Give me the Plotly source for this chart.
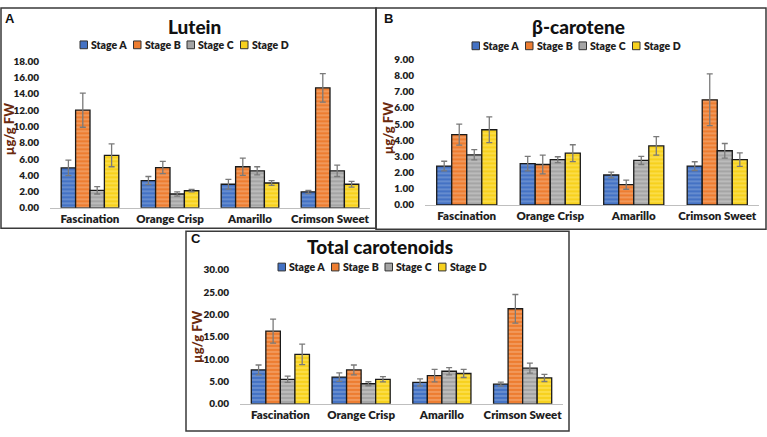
import plotly.graph_objects as go

W, H = 767, 437

categories = ["Fascination", "Orange Crisp", "Amarillo", "Crimson Sweet"]
stages = ["Stage A", "Stage B", "Stage C", "Stage D"]

# Lutein (µg/g FW)
lutein_a = [4.9, 3.35, 2.9, 1.95]
lutein_b = [12.0, 4.95, 5.05, 14.75]
lutein_c = [2.15, 1.7, 4.55, 4.55]
lutein_d = [6.45, 2.1, 3.05, 2.9]
lutein_err_a = [0.95, 0.5, 0.6, 0.2]
lutein_err_b = [2.1, 0.75, 1.05, 1.75]
lutein_err_c = [0.45, 0.25, 0.5, 0.7]
lutein_err_d = [1.4, 0.15, 0.3, 0.35]

# beta-carotene (µg/g FW)
bcar_a = [2.4, 2.55, 1.85, 2.4]
bcar_b = [4.35, 2.5, 1.25, 6.5]
bcar_c = [3.1, 2.8, 2.75, 3.35]
bcar_d = [4.65, 3.2, 3.65, 2.8]
bcar_err_a = [0.3, 0.45, 0.18, 0.27]
bcar_err_b = [0.65, 0.58, 0.28, 1.6]
bcar_err_c = [0.32, 0.18, 0.25, 0.45]
bcar_err_d = [0.8, 0.52, 0.57, 0.42]

# Total carotenoids (µg/g FW)
total_a = [7.6, 6.0, 4.8, 4.4]
total_b = [16.3, 7.6, 6.3, 21.3]
total_c = [5.5, 4.5, 7.3, 8.0]
total_d = [11.1, 5.5, 6.8, 5.8]
total_err_a = [1.1, 0.95, 0.8, 0.45]
total_err_b = [2.7, 1.1, 1.4, 3.2]
total_err_c = [0.7, 0.45, 0.8, 1.1]
total_err_d = [2.3, 0.6, 0.9, 0.8]

base_colors = ["#4472C4", "#ED7D31", "#A5A5A5", "#F7D11E"]
stripe_colors = ["#8FAADC", "#F8B98C", "#D6D6D6", "#FFEB7A"]

FONT = "Lato"
TXT = "#1E1E1E"
YTITLE = "#6B2A0E"


def px_x(x):
    return x / W


def px_y(y):
    return 1 - y / H


panels = [
    dict(title="Lutein", letter="A", vals=[lutein_a, lutein_b, lutein_c, lutein_d],
         errs=[lutein_err_a, lutein_err_b, lutein_err_c, lutein_err_d],
         ymax=18, dtick=2, xd=(50, 370), yd=(207, 56),
         title_xy=(194, 20), legend_xy=(80, 39), letter_xy=(10, 12), ytitle_xy=(9, 126)),
    dict(title="β-carotene", letter="B", vals=[bcar_a, bcar_b, bcar_c, bcar_d],
         errs=[bcar_err_a, bcar_err_b, bcar_err_c, bcar_err_d],
         ymax=9, dtick=1, xd=(425, 759), yd=(204, 54),
         title_xy=(578, 20), legend_xy=(472, 40), letter_xy=(388, 12), ytitle_xy=(388, 125)),
    dict(title="Total carotenoids", letter="C", vals=[total_a, total_b, total_c, total_d],
         errs=[total_err_a, total_err_b, total_err_c, total_err_d],
         ymax=30, dtick=5, xd=(240, 563), yd=(409, 271),
         title_xy=(380, 247), legend_xy=(278, 268), letter_xy=(196, 239), ytitle_xy=(197, 340)),
]

fig = go.Figure()
annotations = []
shapes = []

for i, p in enumerate(panels):
    suffix = "" if i == 0 else str(i + 1)
    for s in range(4):
        fig.add_trace(go.Bar(
            x=categories, y=p["vals"][s], name=stages[s],
            xaxis="x" + suffix, yaxis="y" + suffix,
            showlegend=False, hoverinfo="skip",
            marker=dict(color=base_colors[s],
                        line=dict(color="#1A1A1A", width=1.3),
                        pattern=dict(shape="-", bgcolor=base_colors[s],
                                     fgcolor=stripe_colors[s], size=4, solidity=0.45)),
            error_y=dict(type="data", array=p["errs"][s], visible=True,
                         color="#7A7A7A", thickness=1.3, width=3),
        ))
    fig.update_layout(**{
        "xaxis" + suffix: dict(domain=[px_x(p["xd"][0]), px_x(p["xd"][1])],
                               anchor="y" + suffix, showline=True, linecolor="#BFBFBF",
                               linewidth=1.5, ticks="", showgrid=False, fixedrange=True,
                               tickfont=dict(family=FONT, size=11.5, color=TXT, weight=800)),
        "yaxis" + suffix: dict(domain=[px_y(p["yd"][0]), px_y(p["yd"][1])],
                               anchor="x" + suffix, range=[0, p["ymax"]], dtick=p["dtick"],
                               tickformat=".2f", showgrid=False, zeroline=False, fixedrange=True,
                               showline=False, ticks="", ticklabelstandoff=10,
                               tickfont=dict(family=FONT, size=10, color=TXT, weight=800)),
    })
    annotations.append(dict(text=p["title"], x=px_x(p["title_xy"][0]), y=px_y(p["title_xy"][1]),
                            xref="paper", yref="paper", showarrow=False,
                            xanchor="center", yanchor="middle",
                            font=dict(family=FONT, size=19, color="#111111", weight=900)))
    annotations.append(dict(text=p["letter"], x=px_x(p["letter_xy"][0]), y=px_y(p["letter_xy"][1]),
                            xref="paper", yref="paper", showarrow=False,
                            xanchor="center", yanchor="middle",
                            font=dict(family="Liberation Sans", size=13, color="#111111", weight="bold")))
    annotations.append(dict(text="µg/g FW", x=px_x(p["ytitle_xy"][0]), y=px_y(p["ytitle_xy"][1]),
                            xref="paper", yref="paper", showarrow=False, textangle=-90,
                            xanchor="center", yanchor="middle",
                            font=dict(family=FONT, size=13, color=YTITLE, weight=900)))
    lx, ly = p["legend_xy"]
    for s in range(4):
        sx = lx + s * 53.5
        shapes.append(dict(type="rect", xref="paper", yref="paper",
                           x0=px_x(sx), x1=px_x(sx + 7.5), y0=px_y(ly + 4), y1=px_y(ly - 4),
                           fillcolor=base_colors[s], line=dict(color="#333333", width=1)))
        annotations.append(dict(text=stages[s], x=px_x(sx + 9), y=px_y(ly),
                                xref="paper", yref="paper", showarrow=False,
                                xanchor="left", yanchor="middle",
                                font=dict(family=FONT, size=10.5, color=TXT, weight=800)))

frames = [(1, 1, 376, 228), (376, 1, 766, 229), (186, 231, 569, 437)]
for (x0, y0, x1, y1) in frames:
    shapes.append(dict(type="rect", xref="paper", yref="paper",
                       x0=px_x(x0), x1=px_x(x1), y0=px_y(y1), y1=px_y(y0),
                       fillcolor="rgba(0,0,0,0)", line=dict(color="#3A3A3A", width=1.5)))

fig.update_layout(
    width=W, height=H,
    margin=dict(l=0, r=0, t=0, b=0),
    paper_bgcolor="white", plot_bgcolor="white",
    barmode="group", bargap=0.28, bargroupgap=0,
    annotations=annotations, shapes=shapes,
    showlegend=False, hovermode=False,
)

fig.write_html("out.html", config={"displayModeBar": False, "staticPlot": True},
               post_script="document.body.style.margin='0';document.body.style.overflow='hidden';")
